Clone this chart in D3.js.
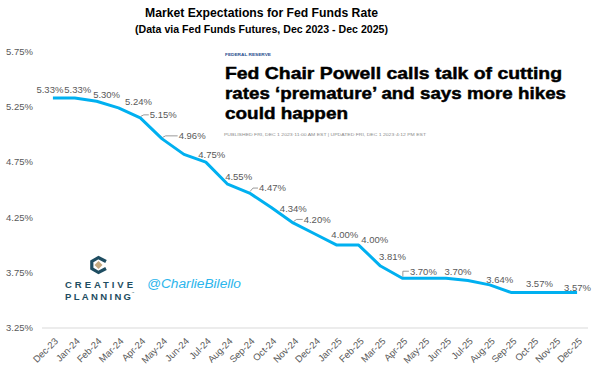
<!DOCTYPE html>
<html>
<head>
<meta charset="utf-8">
<script src="https://cdn.jsdelivr.net/npm/d3@7"></script>
<style>
  html, body { margin: 0; padding: 0; background: #fff; }
  svg { display: block; }
  text { font-family: "Liberation Sans", Arial, sans-serif; }
</style>
</head>
<body>
<svg id="chart" width="598" height="379"></svg>
<script>
// ---- Data ----
const months = ["Dec-23","Jan-24","Feb-24","Mar-24","Apr-24","May-24","Jun-24","Jul-24","Aug-24","Sep-24","Oct-24","Nov-24","Dec-24","Jan-25","Feb-25","Mar-25","Apr-25","May-25","Jun-25","Jul-25","Aug-25","Sep-25","Oct-25","Nov-25","Dec-25"];
const rates = [5.33,5.33,5.30,5.24,5.15,4.96,4.82,4.75,4.55,4.47,4.34,4.20,4.10,4.00,4.00,3.81,3.70,3.70,3.70,3.68,3.64,3.57,3.57,3.57,3.57];
const dataLabels = ["5.33%","5.33%","5.30%","5.24%","5.15%","4.96%",null,"4.75%","4.55%","4.47%","4.34%","4.20%",null,"4.00%","4.00%","3.81%","3.70%",null,"3.70%",null,"3.64%",null,"3.57%",null,"3.57%"];
const yTickValues = [3.25,3.75,4.25,4.75,5.25,5.75];
const yTickLabels = ["3.25%","3.75%","4.25%","4.75%","5.25%","5.75%"];
const titleText = "Market Expectations for Fed Funds Rate";
const subtitleText = "(Data via Fed Funds Futures, Dec 2023 - Dec 2025)";
const headlineLines = ["Fed Chair Powell calls talk of cutting", "rates \u2018premature\u2019 and says more hikes", "could happen"];

// ---- Layout (label placement relative to points: [dx, dy, leader]) ----
const labelLayout = {
  0:[-3,-8,0], 1:[3,-8,0], 2:[10,-7,0], 3:[20,-6.5,0], 4:[23,-3,1], 5:[30,-3,1],
  7:[6,-7,0], 8:[11,-8,0], 9:[23,-5,1], 10:[22,1,0], 11:[24,-3.5,1],
  13:[8,-10,0], 14:[16,-5,0], 15:[12,-9,0], 16:[21,-7,2], 18:[12,-7,0],
  20:[10,-5,0], 22:[6,-9,0], 24:[0.5,-5,0]
};

const svg = d3.select("#chart");
const x = d3.scaleBand().domain(months).range([42, 588]);
const y = d3.scaleLinear().domain([3.25, 5.75]).range([328, 51.5]);
const cx = d => x(d) + x.bandwidth() / 2;

// Titles
svg.append("text").attr("x", 261.5).attr("y", 16.5).attr("text-anchor", "middle")
  .attr("font-size", 13).attr("font-weight", "bold").attr("fill", "#000")
  .attr("textLength", 233).attr("lengthAdjust", "spacingAndGlyphs").text(titleText);
svg.append("text").attr("x", 261.5).attr("y", 33).attr("text-anchor", "middle")
  .attr("font-size", 11).attr("font-weight", "bold").attr("fill", "#000")
  .attr("textLength", 253).attr("lengthAdjust", "spacingAndGlyphs").text(subtitleText);

// Baseline
svg.append("line").attr("x1", 42).attr("x2", 588).attr("y1", y(3.25)).attr("y2", y(3.25))
  .attr("stroke", "#d9d9d9").attr("stroke-width", 1);

// Y tick labels
svg.append("g").selectAll("text").data(yTickValues).join("text")
  .attr("x", 33).attr("y", d => y(d)).attr("dy", "0.35em").attr("text-anchor", "end")
  .attr("font-size", 9.5).attr("fill", "#595959")
  .text((d, i) => yTickLabels[i]);

// X tick labels
svg.append("g").selectAll("text").data(months).join("text")
  .attr("transform", d => `translate(${cx(d) + 1},337) rotate(-45)`)
  .attr("dy", "0.7em").attr("text-anchor", "end")
  .attr("font-size", 9.5).attr("fill", "#595959").text(d => d);

// Line
const line = d3.line().x((d, i) => cx(months[i])).y(d => y(d)).curve(d3.curveLinear);
svg.append("path").datum(rates).attr("d", line)
  .attr("fill", "none").attr("stroke", "#00B0F0").attr("stroke-width", 3)
  .attr("stroke-linejoin", "round").attr("stroke-linecap", "butt");

// Data labels
const lg = svg.append("g");
dataLabels.forEach((lab, i) => {
  if (!lab) return;
  const [dx, dy, leader] = labelLayout[i] || [0, -8, 0];
  const px = cx(months[i]), py = y(rates[i]);
  const t = lg.append("text").attr("x", px + dx).attr("y", py + dy).attr("dy", "0.35em")
    .attr("text-anchor", "middle").attr("font-size", 9.5).attr("fill", "#595959").text(lab);
  if (leader) {
    const w = t.node().getComputedTextLength();
    const left = px + dx - w / 2 - 1;
    const my = py + dy;
    const cornerX = leader === 2 ? px + 0.5 : px + 3.5;
    lg.append("path").attr("d", `M${px + 0.5},${py - 1.5}L${cornerX},${my}L${left},${my}`)
      .attr("fill", "none").attr("stroke", "#808080").attr("stroke-width", 0.8);
  }
});

// News headline overlay
svg.append("text").attr("x", 225).attr("y", 56).attr("font-size", 4).attr("font-weight", "bold")
  .attr("fill", "#2a4f8f").attr("textLength", 46).attr("lengthAdjust", "spacingAndGlyphs").text("FEDERAL RESERVE");
headlineLines.forEach((ln, i) => {
  const widths = [337, 341, 123];
  svg.append("text").attr("x", 225).attr("y", 79 + i * 20).attr("font-size", 16.5)
    .attr("font-weight", "bold").attr("fill", "#000").attr("stroke", "#000").attr("stroke-width", 0.45)
    .attr("textLength", widths[i]).attr("lengthAdjust", "spacingAndGlyphs").text(ln);
});
svg.append("text").attr("x", 224).attr("y", 135.5).attr("font-size", 4)
  .attr("fill", "#8a8a8a").attr("textLength", 202).attr("lengthAdjust", "spacingAndGlyphs")
  .text("PUBLISHED FRI, DEC 1 2023\u00b711:00 AM EST | UPDATED FRI, DEC 1 2023\u00b74:12 PM EST");

// Creative Planning logo
const logo = svg.append("g");
logo.append("path").attr("d", "M106,261.5 L98.5,257.5 L91.8,261.5 L91.8,268.5 L98.5,272.5 L106,268.5")
  .attr("fill", "none").attr("stroke", "#1e4d61").attr("stroke-width", 3.2).attr("stroke-linejoin", "miter");
logo.append("path").attr("d", "M98.5,261 L102.5,265 L98.5,269 L94.5,265 Z").attr("fill", "#c4a97f");
logo.append("text").attr("x", 65).attr("y", 288).attr("font-size", 9.5).attr("font-weight", "bold")
  .attr("fill", "#1e4d61").attr("textLength", 68).attr("lengthAdjust", "spacing").text("CREATIVE");
logo.append("text").attr("x", 65).attr("y", 299.5).attr("font-size", 9.5).attr("font-weight", "bold")
  .attr("fill", "#1e4d61").attr("textLength", 66).attr("lengthAdjust", "spacing").text("PLANNING");
logo.append("text").attr("x", 131.5).attr("y", 294).attr("font-size", 3).attr("fill", "#1e4d61").text("\u2122");

// Handle
svg.append("text").attr("x", 147).attr("y", 287.5).attr("font-size", 12.5).attr("font-style", "italic")
  .attr("font-family", "'DejaVu Sans', sans-serif")
  .attr("fill", "#2bb5ec").attr("textLength", 94).attr("lengthAdjust", "spacingAndGlyphs").text("@CharlieBilello");
</script>
</body>
</html>
